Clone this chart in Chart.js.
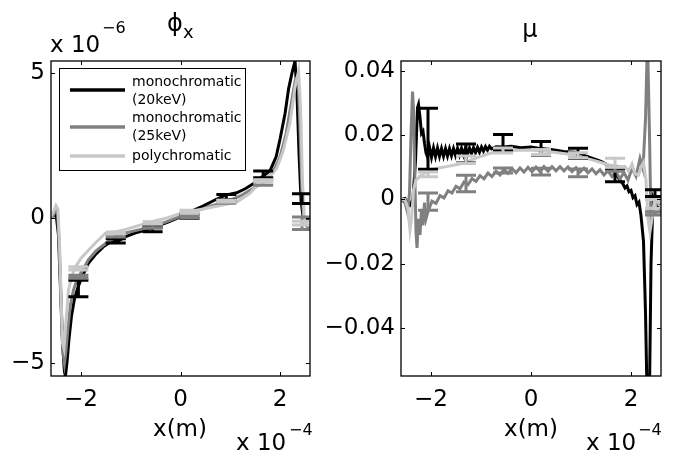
<!DOCTYPE html>
<html><head><meta charset="utf-8">
<script src="https://cdn.jsdelivr.net/npm/chart.js@4/dist/chart.umd.min.js"></script>
<style>
html,body{margin:0;padding:0;background:#fff;}
#wrap{position:relative;width:685px;height:454px;overflow:hidden;}
canvas{position:absolute;left:0;top:0;}
</style></head><body>
<div id="wrap"><canvas id="c1" width="685" height="454"></canvas><canvas id="c2" width="685" height="454"></canvas></div>
<script>
// ---------- data (x in units of 1e-4 m) ----------
const xTickVals = [-2, 0, 2];
const phiTickVals = [-5, 0, 5];          // units of 1e-6
const muTickVals = [-0.04, -0.02, 0, 0.02, 0.04];
const seriesNames = ['monochromatic\n(20keV)', 'monochromatic\n(25keV)', 'polychromatic'];

// phi_x (1e-6)
const phiBlackX = [-2.56,-2.50,-2.45,-2.41,-2.37,-2.33,-2.31,-2.28,-2.24,-2.19,-2.13,-2.06,-1.98,-1.85,-1.70,-1.55,-1.40,-1.25,-1.10,-0.90,-0.71,-0.50,-0.25,0.00,0.19,0.45,0.70,0.90,1.13,1.30,1.46,1.62,1.80,1.92,2.00,2.10,2.17,2.24,2.30,2.34,2.38,2.42,2.46,2.52,2.58];
const phiBlackY = [0.05,0.15,-0.60,-2.40,-4.30,-5.30,-5.45,-5.00,-4.20,-3.40,-2.80,-2.40,-2.05,-1.57,-1.25,-1.00,-0.83,-0.80,-0.65,-0.52,-0.43,-0.30,-0.15,0.03,0.20,0.40,0.62,0.78,0.86,1.00,1.17,1.38,1.63,2.10,2.72,3.60,4.44,5.00,5.40,4.20,2.20,0.60,0.05,-0.05,-0.10];
const phiGrayX = [-2.58,-2.52,-2.47,-2.43,-2.39,-2.36,-2.33,-2.30,-2.26,-2.21,-2.15,-2.08,-2.00,-1.85,-1.70,-1.50,-1.30,-1.10,-0.80,-0.56,-0.30,0.00,0.30,0.60,0.92,1.20,1.45,1.66,1.85,2.00,2.12,2.22,2.30,2.36,2.40,2.44,2.48,2.54,2.60];
const phiGrayY = [0.00,0.20,0.25,-1.20,-3.20,-4.60,-5.00,-4.60,-3.80,-3.00,-2.50,-2.15,-1.90,-1.45,-1.15,-0.88,-0.66,-0.52,-0.40,-0.30,-0.15,0.05,0.22,0.40,0.55,0.75,1.00,1.22,1.55,2.10,2.90,3.90,4.70,4.90,3.00,0.80,-0.10,-0.30,-0.30];
const phiPolyX = [-2.60,-2.55,-2.50,-2.46,-2.43,-2.40,-2.37,-2.34,-2.30,-2.25,-2.18,-2.11,-2.00,-1.85,-1.70,-1.51,-1.30,-1.10,-0.90,-0.71,-0.50,-0.25,0.00,0.20,0.46,0.80,1.13,1.40,1.60,1.80,1.93,2.06,2.20,2.30,2.37,2.41,2.45,2.49,2.54,2.60];
const phiPolyY = [0.05,0.20,0.43,0.30,-0.80,-2.60,-4.30,-4.50,-3.60,-2.50,-2.00,-1.69,-1.40,-1.12,-0.85,-0.54,-0.48,-0.40,-0.30,-0.20,-0.10,0.00,0.15,0.22,0.30,0.42,0.54,0.85,1.23,1.45,1.69,2.30,3.29,4.50,5.05,3.80,1.20,-0.15,-0.25,-0.25];

// phi error bars
const phiErrX = [-2.05,-1.30,-0.56,0.18,0.92,1.66,2.44];
const phiErrBlackLo = [-2.72,-0.87,-0.48,-0.02,0.62,1.38,0.49];
const phiErrBlackHi = [-2.15,-0.72,-0.33,0.12,0.80,1.61,0.83];
const phiErrGrayLo = [-2.08,-0.66,-0.36,0.00,0.50,1.12,-0.40];
const phiErrGrayHi = [-1.98,-0.55,-0.25,0.08,0.60,1.30,0.03];
const phiErrPolyLo = [-1.80,-0.55,-0.20,0.16,0.54,1.22,-0.25];
const phiErrPolyHi = [-1.69,-0.49,-0.14,0.26,0.60,1.31,-0.12];

// mu
const muBlackX = [-2.60,-2.52,-2.46,-2.41,-2.36,-2.31,-2.27,-2.25,-2.22,-2.19,-2.16,-2.13,-2.10,
 -2.07,-2.03,-1.99,-1.95,-1.91,-1.87,-1.83,-1.79,-1.75,-1.71,-1.67,-1.63,-1.59,-1.55,-1.51,-1.47,-1.43,-1.39,-1.35,-1.31,-1.27,-1.23,-1.19,-1.15,-1.11,-1.07,-1.03,-0.99,-0.95,-0.91,-0.87,-0.83,-0.79,
 -0.70,-0.55,-0.40,-0.20,0.00,0.20,0.40,0.65,0.88,1.05,1.22,1.40,1.55,1.65,1.72,1.78,1.84,1.88,1.92,1.96,2.00,2.04,2.08,2.12,2.16,2.20,2.25,2.29,2.32,2.37,2.40,2.44,2.50,2.60];
const muBlackY = [0.0000,0.0003,-0.0012,-0.0018,0.0005,0.0120,0.0285,0.0295,0.0255,0.0205,0.0212,0.0175,0.0145,
 0.0132,0.0162,0.0131,0.0160,0.0133,0.0160,0.0134,0.0158,0.0134,0.0158,0.0135,0.0158,0.0136,0.0158,0.0137,0.0159,0.0138,0.0159,0.0139,0.0160,0.0141,0.0160,0.0143,0.0161,0.0145,0.0162,0.0147,0.0163,0.0150,0.0164,0.0153,0.0165,0.0157,
 0.0164,0.0163,0.0165,0.0161,0.0163,0.0158,0.0155,0.0149,0.0147,0.0138,0.0128,0.0118,0.0106,0.0088,0.0075,0.0060,0.0048,0.0036,0.0042,0.0024,0.0028,0.0006,0.0012,-0.0016,-0.0008,-0.0050,-0.0130,-0.0350,-0.0600,-0.0600,-0.0200,0.0005,-0.0020,-0.0030];
const muGrayX = [-2.60,-2.52,-2.47,-2.43,-2.40,-2.37,-2.35,-2.32,-2.30,-2.28,-2.25,-2.22,-2.19,-2.16,-2.13,-2.10,
 -2.06,-1.98,-1.90,-1.82,-1.74,-1.66,-1.58,-1.50,-1.42,-1.34,-1.26,-1.18,-1.10,-1.02,-0.94,-0.86,-0.78,-0.70,-0.62,-0.54,-0.46,-0.38,-0.30,-0.22,-0.14,-0.06,0.02,0.10,0.18,0.26,0.34,0.42,0.50,0.58,0.66,0.74,0.82,0.90,0.98,1.06,1.14,1.22,1.30,1.38,1.46,1.54,1.62,1.70,1.78,1.86,1.94,2.02,2.10,2.18,
 2.24,2.29,2.33,2.37,2.40,2.45,2.52,2.60];
const muGrayY = [0.0000,-0.0010,-0.0040,0.0020,0.0200,0.0335,0.0280,0.0050,-0.0100,-0.0150,-0.0060,-0.0110,-0.0030,-0.0080,-0.0010,-0.0060,
 -0.0037,-0.0005,-0.0012,0.0012,0.0005,0.0027,0.0020,0.0041,0.0033,0.0054,0.0046,0.0065,0.0056,0.0074,0.0064,0.0082,0.0071,0.0088,0.0076,0.0093,0.0081,0.0096,0.0083,0.0098,0.0085,0.0100,0.0086,0.0101,0.0087,0.0102,0.0088,0.0102,0.0089,0.0102,0.0089,0.0101,0.0087,0.0099,0.0085,0.0097,0.0083,0.0095,0.0080,0.0092,0.0076,0.0089,0.0071,0.0086,0.0064,0.0084,0.0060,0.0097,0.0072,0.0128,
 0.0095,0.0250,0.0500,0.0200,-0.0070,-0.0030,-0.0010,-0.0015];
const muPolyX = [-2.60,-2.52,-2.46,-2.42,-2.39,-2.35,-2.30,-2.20,-2.10,-2.02,-1.85,-1.69,-1.50,-1.36,-1.20,-1.02,-0.85,-0.69,-0.40,0.00,0.30,0.65,0.88,1.05,1.22,1.40,1.55,1.70,1.80,1.88,1.95,2.02,2.08,2.15,2.20,2.25,2.30,2.34,2.38,2.42,2.47,2.55,2.60];
const muPolyY = [0.0000,0.0000,-0.0030,-0.0095,-0.0060,0.0030,0.0060,0.0075,0.0085,0.0092,0.0098,0.0102,0.0108,0.0112,0.0122,0.0133,0.0142,0.0148,0.0152,0.0154,0.0150,0.0143,0.0138,0.0130,0.0123,0.0115,0.0107,0.0105,0.0100,0.0102,0.0088,0.0110,0.0080,0.0076,0.0100,0.0115,0.0060,-0.0060,-0.0100,-0.0060,0.0000,-0.0010,-0.0005];

// mu error bars
const muErrX = [-2.06,-1.30,-0.56,0.20,0.94,1.68,2.48];
const muErrBlackLo = [0.0094,0.0113,0.0154,0.0138,0.0128,0.0055,0.0009];
const muErrBlackHi = [0.0283,0.0172,0.0202,0.0180,0.0159,0.0095,0.0030];
const muErrGrayLo = [-0.0033,0.0024,0.0082,0.0076,0.0071,0.0088,-0.0048];
const muErrGrayHi = [0.0020,0.0075,0.0098,0.0097,0.0095,0.0100,-0.0038];
const muErrPolyLo = [0.0071,0.0112,0.0144,0.0140,0.0130,0.0100,-0.0027];
const muErrPolyHi = [0.0085,0.0135,0.0160,0.0155,0.0145,0.0128,0.0000];

// ---------- styling ----------
const FONT = 'DejaVu Sans';
const C_BLACK = '#000000', C_GRAY = '#808080', C_POLY = '#c8c8c8';
const LW = 3;

function pts(xs, ys){ return xs.map((x,i)=>({x:x, y:ys[i]})); }
function minus(v, digits){
  if (Math.abs(v) < 1e-12) return '0';
  const s = digits ? Math.abs(v).toFixed(digits) : String(Math.abs(v));
  return (v < 0 ? '\u2212' : '') + s;
}

const deco = {
  id: 'deco',
  beforeDraw(chart, args, o){
    if (o.bg){ const c = chart.ctx; c.save(); c.fillStyle = '#fff'; c.fillRect(0,0,chart.width,chart.height); c.restore(); }
  },
  afterDatasetsDraw(chart, args, o){
    const c = chart.ctx, a = chart.chartArea, xs = chart.scales.x, ys = chart.scales.y;
    c.save();
    c.beginPath(); c.rect(a.left, a.top, a.right - a.left, a.bottom - a.top); c.clip();
    (o.err || []).forEach(e => {
      c.strokeStyle = e.color; c.lineWidth = LW; c.lineCap = 'butt';
      e.x.forEach((xv, i) => {
        const px = xs.getPixelForValue(xv), p1 = ys.getPixelForValue(e.lo[i]), p2 = ys.getPixelForValue(e.hi[i]);
        c.beginPath();
        c.moveTo(px, p1); c.lineTo(px, p2);
        c.moveTo(px - 10, p1); c.lineTo(px + 10, p1);
        c.moveTo(px - 10, p2); c.lineTo(px + 10, p2);
        c.stroke();
      });
    });
    c.restore();
  },
  afterDraw(chart, args, o){
    const c = chart.ctx, a = chart.chartArea, xs = chart.scales.x, ys = chart.scales.y;
    c.save();
    c.strokeStyle = '#000'; c.lineWidth = 1.3;
    c.strokeRect(a.left, a.top, a.right - a.left, a.bottom - a.top);
    c.lineWidth = 1;
    c.beginPath();
    xs.ticks.forEach(t => { const p = Math.round(xs.getPixelForValue(t.value)) + 0.5;
      c.moveTo(p, a.bottom); c.lineTo(p, a.bottom - 4); c.moveTo(p, a.top); c.lineTo(p, a.top + 4); });
    ys.ticks.forEach(t => { const p = Math.round(ys.getPixelForValue(t.value)) + 0.5;
      c.moveTo(a.left, p); c.lineTo(a.left + 4, p); c.moveTo(a.right, p); c.lineTo(a.right - 4, p); });
    c.stroke();
    c.fillStyle = '#000'; c.textBaseline = 'alphabetic';
    (o.texts || []).forEach(t => {
      c.font = t.size + 'px "' + FONT + '"'; c.textAlign = t.align || 'left';
      c.fillText(t.text, t.x, t.y);
    });
    if (o.legend){
      const L = o.legend;
      c.fillStyle = '#fff'; c.fillRect(L.x, L.y, L.w, L.h);
      c.strokeStyle = '#000'; c.lineWidth = 1; c.strokeRect(L.x + 0.5, L.y + 0.5, L.w, L.h);
      c.font = '14px "' + FONT + '"'; c.textAlign = 'left'; c.textBaseline = 'middle';
      L.items.forEach(it => {
        c.strokeStyle = it.color; c.lineWidth = 3.5;
        c.beginPath(); c.moveTo(L.x + 11, it.lineY); c.lineTo(L.x + 66, it.lineY); c.stroke();
        c.fillStyle = '#000';
        it.text.split('\n').forEach((s, k) => c.fillText(s, L.x + 73, it.textY + k * 18.5));
      });
    }
    c.restore();
  }
};
Chart.register(deco);

function scales(yMin, yMax, yTicks, yFmt, yWidth){
  const tickFont = { family: FONT, size: 23 };
  return {
    x: {
      type: 'linear', min: -2.6, max: 2.6,
      afterBuildTicks: s => { s.ticks = xTickVals.map(v => ({ value: v })); },
      afterFit: s => { s.height = 78; },
      grid: { display: false, drawTicks: false }, border: { display: false },
      ticks: { font: tickFont, color: '#000', padding: 10, autoSkip: false, maxRotation: 0,
               callback: v => minus(v) }
    },
    y: {
      type: 'linear', min: yMin, max: yMax,
      afterBuildTicks: s => { s.ticks = yTicks.map(v => ({ value: v })); },
      afterFit: s => { s.width = yWidth; },
      grid: { display: false, drawTicks: false }, border: { display: false },
      ticks: { font: tickFont, color: '#000', padding: 6, autoSkip: false, callback: yFmt }
    }
  };
}

function ds(label, xs, ys, color, order){
  return { label: label, data: pts(xs, ys), borderColor: color, backgroundColor: color,
           borderWidth: LW, pointRadius: 0, tension: 0, fill: false, order: order };
}

const common = { responsive: false, animation: false, devicePixelRatio: 1 };

new Chart(document.getElementById('c1'), {
  type: 'line',
  data: { datasets: [
    ds(seriesNames[0], phiBlackX, phiBlackY, C_BLACK, 2),
    ds(seriesNames[1], phiGrayX, phiGrayY, C_GRAY, 1),
    ds(seriesNames[2], phiPolyX, phiPolyY, C_POLY, 0)
  ]},
  options: Object.assign({}, common, {
    layout: { padding: { left: 0, right: 375, top: 61, bottom: 0 } },
    scales: scales(-5.45, 5.4, phiTickVals, v => minus(v), 51),
    plugins: {
      legend: { display: false }, tooltip: { enabled: false },
      deco: {
        bg: true,
        err: [
          { x: phiErrX, lo: phiErrBlackLo, hi: phiErrBlackHi, color: C_BLACK },
          { x: phiErrX, lo: phiErrGrayLo, hi: phiErrGrayHi, color: C_GRAY },
          { x: phiErrX, lo: phiErrPolyLo, hi: phiErrPolyHi, color: C_POLY }
        ],
        texts: [
          { text: 'x 10', x: 50, y: 52, size: 23 },
          { text: '\u22126', x: 102, y: 33, size: 16 },
          { text: '\u03D5', x: 175, y: 31, size: 24, align: 'center' },
          { text: 'x', x: 183, y: 38, size: 18 },
          { text: 'x(m)', x: 180, y: 436, size: 23, align: 'center' },
          { text: 'x 10', x: 236, y: 450, size: 23 },
          { text: '\u22124', x: 289, y: 435, size: 16 }
        ],
        legend: { x: 59, y: 68, w: 186, h: 102, items: [
          { text: seriesNames[0], color: C_BLACK, lineY: 90, textY: 82 },
          { text: seriesNames[1], color: C_GRAY, lineY: 127, textY: 118 },
          { text: seriesNames[2], color: C_POLY, lineY: 156, textY: 156 }
        ]}
      }
    }
  })
});

new Chart(document.getElementById('c2'), {
  type: 'line',
  data: { datasets: [
    ds(seriesNames[0], muBlackX, muBlackY, C_BLACK, 2),
    ds(seriesNames[1], muGrayX, muGrayY, C_GRAY, 1),
    ds(seriesNames[2], muPolyX, muPolyY, C_POLY, 0)
  ]},
  options: Object.assign({}, common, {
    layout: { padding: { left: 316, right: 24, top: 61, bottom: 0 } },
    scales: scales(-0.0548, 0.043, muTickVals, v => minus(v, 2), 85),
    plugins: {
      legend: { display: false }, tooltip: { enabled: false },
      deco: {
        bg: false,
        err: [
          { x: muErrX, lo: muErrBlackLo, hi: muErrBlackHi, color: C_BLACK },
          { x: muErrX, lo: muErrGrayLo, hi: muErrGrayHi, color: C_GRAY },
          { x: muErrX, lo: muErrPolyLo, hi: muErrPolyHi, color: C_POLY }
        ],
        texts: [
          { text: '\u03BC', x: 530, y: 37, size: 24, align: 'center' },
          { text: 'x(m)', x: 531, y: 436, size: 23, align: 'center' },
          { text: 'x 10', x: 586, y: 450, size: 23 },
          { text: '\u22124', x: 638, y: 435, size: 16 }
        ]
      }
    }
  })
});
</script>
</body></html>
